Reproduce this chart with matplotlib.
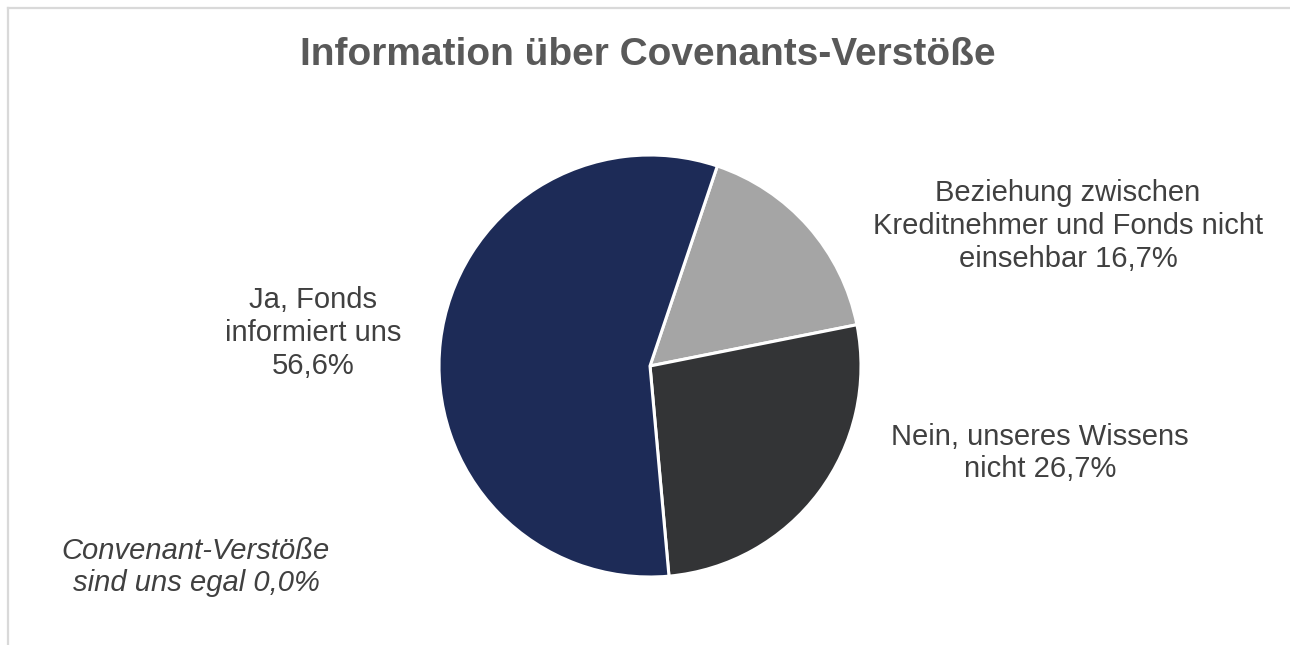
import matplotlib.pyplot as plt
from matplotlib.lines import Line2D

plt.rcParams["font.family"] = ["Liberation Sans", "DejaVu Sans"]

# data
categories = [
    "Beziehung zwischen\nKreditnehmer und Fonds nicht\neinsehbar",
    "Nein, unseres Wissens\nnicht",
    "Convenant-Verstöße\nsind uns egal",
    "Ja, Fonds\ninformiert uns\n",
]
shares = [16.7, 26.7, 0.0, 56.6]
colors = ["#a5a5a5", "#333436", "#7f7f7f", "#1d2b57"]

W, H = 1290, 645
fig = plt.figure(figsize=(W / 100, H / 100), dpi=100)


def fx(px):
    return px / W


def fy(py):
    return 1 - py / H


# light grey chart border (cropped at right / bottom)
fig.add_artist(Line2D([fx(8), 1], [fy(8), fy(8)], color="#d9d9d9", lw=1.6))
fig.add_artist(Line2D([fx(8), fx(8)], [fy(8), 0], color="#d9d9d9", lw=1.6))

# pie axes: centre (650, 366), radius 211 px
r = 211
ax = fig.add_axes([fx(650 - r), fy(366 + r), 2 * r / W, 2 * r / H])
vals = [v for v in shares if v > 0]
cols = [c for v, c in zip(shares, colors) if v > 0]
ax.pie(
    vals,
    colors=cols,
    startangle=71.4,
    counterclock=False,
    radius=1,
    wedgeprops=dict(edgecolor="white", linewidth=2.2),
)
ax.set_xlim(-1, 1)
ax.set_ylim(-1, 1)
ax.axis("off")

fig.text(fx(648), fy(55), "Information über Covenants-Verstöße",
         ha="center", va="center", fontsize=28, fontweight="bold", color="#595959")


def pct(v):
    return f"{v:.1f}".replace(".", ",") + "%"


txt = dict(ha="center", va="center", fontsize=21, color="#404040", linespacing=1.22)
fig.text(fx(1068), fy(226), categories[0] + " " + pct(shares[0]), **txt)
fig.text(fx(1040), fy(453), categories[1] + " " + pct(shares[1]), **txt)
fig.text(fx(313), fy(333), categories[3] + pct(shares[3]), **txt)
fig.text(fx(196), fy(567), categories[2] + " " + pct(shares[2]), style="italic", **txt)

fig.savefig("out.png", dpi=100)
